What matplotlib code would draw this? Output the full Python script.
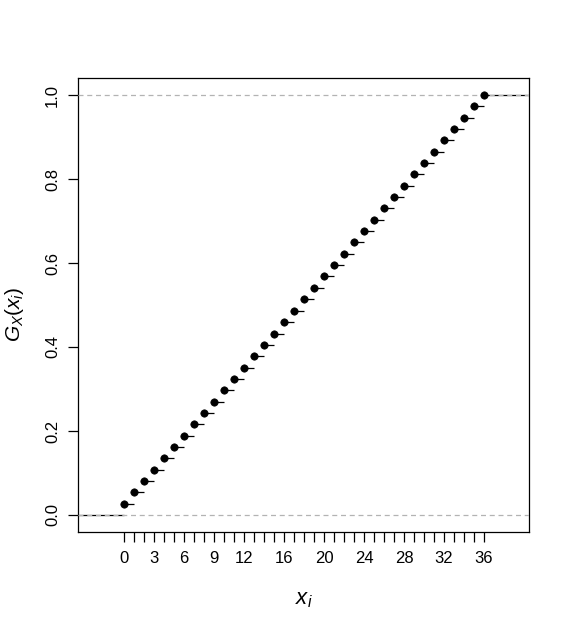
import numpy as np
import matplotlib
matplotlib.use("Agg")
import matplotlib.pyplot as plt

plt.rcParams["font.family"] = ["Liberation Sans", "DejaVu Sans"]
plt.rcParams["mathtext.fontset"] = "custom"
plt.rcParams["mathtext.it"] = "Liberation Sans:italic"
plt.rcParams["mathtext.rm"] = "Liberation Sans"

# values of x_i and the cumulative probability G_X(x_i)
x_vals = [0, 1, 2, 3, 4, 5, 6, 7, 8, 9, 10, 11, 12, 13, 14, 15, 16, 17, 18,
          19, 20, 21, 22, 23, 24, 25, 26, 27, 28, 29, 30, 31, 32, 33, 34, 35, 36]
g_vals = [0.027, 0.054, 0.081, 0.108, 0.135, 0.162, 0.189, 0.216, 0.243,
          0.270, 0.297, 0.324, 0.351, 0.378, 0.405, 0.432, 0.459, 0.486,
          0.514, 0.541, 0.568, 0.595, 0.622, 0.649, 0.676, 0.703, 0.730,
          0.757, 0.784, 0.811, 0.838, 0.865, 0.892, 0.919, 0.946, 0.973, 1.000]
x_labels = [0, 3, 6, 9, 12, 16, 20, 24, 28, 32, 36]
y_ticks = [0.0, 0.2, 0.4, 0.6, 0.8, 1.0]

fig = plt.figure(figsize=(5.7, 6.3), dpi=100)
ax = fig.add_axes([78 / 570, 1 - 532 / 630, 451 / 570, 454 / 630])

xlo, xhi = -4.6, 40.5
ax.set_xlim(xlo, xhi)
ax.set_ylim(-0.0405, 1.0405)

lw = 0.9
# step segments
x_arr = np.array(x_vals)
g_arr = np.array(g_vals)
right_ends = np.append(x_arr[1:], xhi)
ax.hlines(g_arr, x_arr, right_ends, color="black", lw=lw, zorder=2)
ax.hlines([0], xlo, x_arr[0], color="black", lw=lw, zorder=2)

# reference lines
ax.axhline(0, color="#b3b3b3", ls=(0, (4, 3)), lw=lw, zorder=3)
ax.axhline(1, color="#b3b3b3", ls=(0, (4, 3)), lw=lw, zorder=3)

ax.plot(x_vals, g_vals, "o", color="black", ms=5.3, mew=0.5, zorder=4)

ax.set_xticks(x_vals)
ax.set_xticklabels([str(v) if v in x_labels else "" for v in x_vals])
ax.set_yticks(y_ticks)
ax.set_yticklabels([f"{v:.1f}" for v in y_ticks], rotation=90, va="center")

ax.tick_params(axis="x", length=7, width=lw, labelsize=12, pad=7)
ax.tick_params(axis="y", length=7, width=lw, labelsize=12, pad=6)
for s in ax.spines.values():
    s.set_linewidth(lw)

ax.set_xlabel("$x_i$", fontsize=16, labelpad=16)
ax.set_ylabel("$G_X(x_i)$", fontsize=15)
ax.yaxis.set_label_coords(-0.115, 0.48)

fig.savefig("out.png", dpi=100)
